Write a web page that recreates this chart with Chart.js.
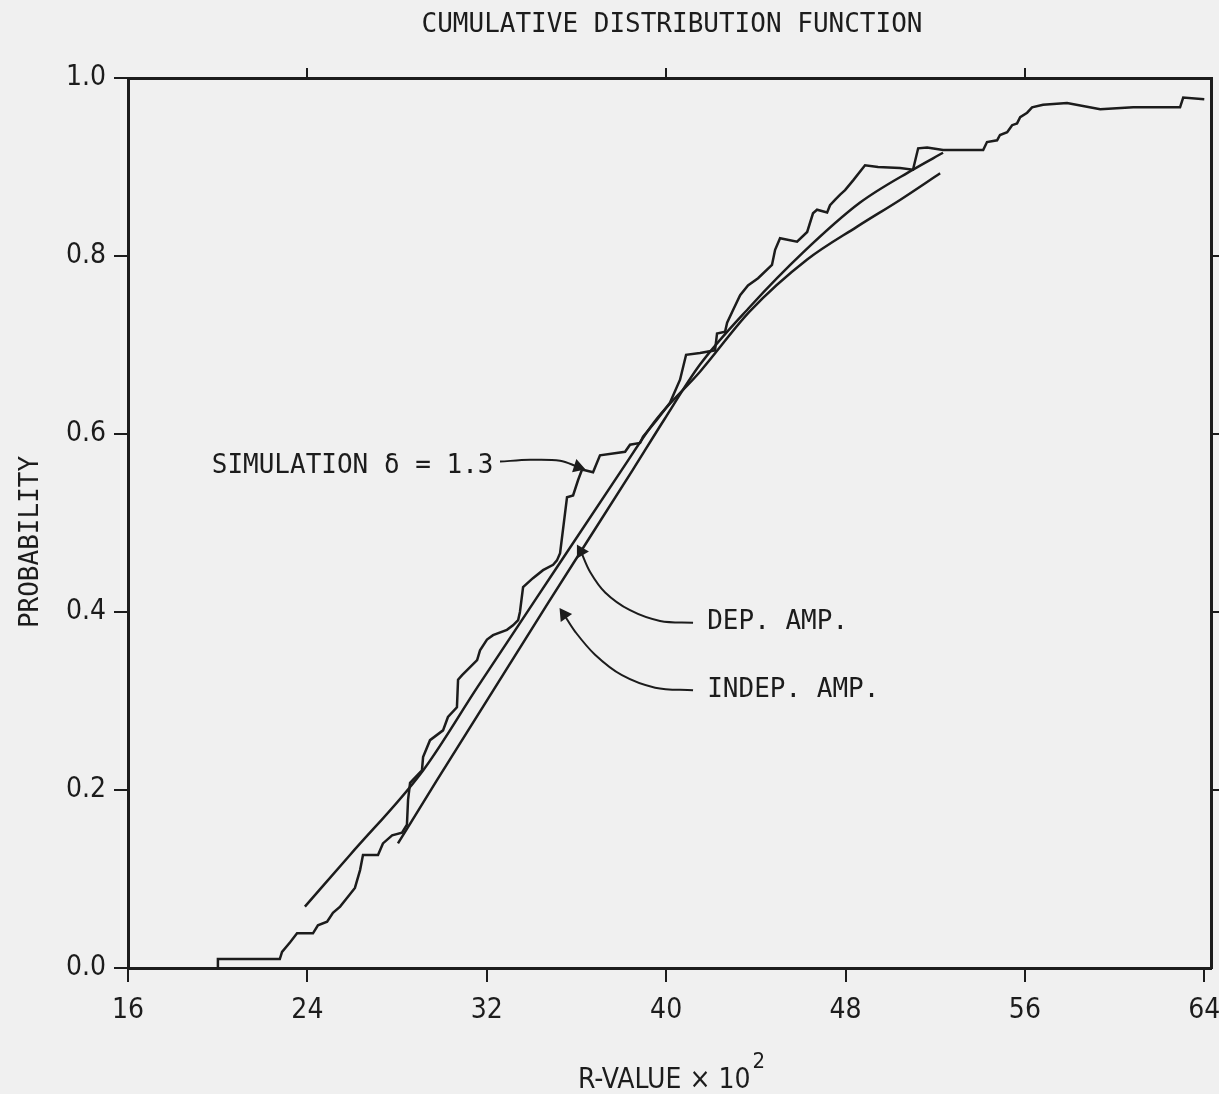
<!DOCTYPE html>
<html>
<head>
<meta charset="utf-8">
<title>Cumulative Distribution Function</title>
<script src="https://cdn.jsdelivr.net/npm/chart.js@4.4.0/dist/chart.umd.min.js"></script>
<style>
  html, body { margin: 0; padding: 0; background: #f0f0f0; }
  #wrap { width: 1219px; height: 1094px; }
</style>
</head>
<body>
<div id="wrap"><canvas id="cdfChart"></canvas></div>
<script>
// axis ticks
const xTicks = [16, 24, 32, 40, 48, 56, 64];
const yTicks = [0, 0.2, 0.4, 0.6, 0.8, 1.0];
const topTicks = [24, 40, 56];
const rightTicks = [0.2, 0.4, 0.6, 0.8];

// simulation (delta = 1.3), step curve
const simX = [19.97, 20.01, 22.77, 22.87, 23.23, 23.54, 24.25, 24.47, 24.88, 25.14,
              25.46, 25.81, 26.12, 26.35, 26.48, 27.15, 27.37, 27.78, 28.22, 28.44,
              28.49, 28.58, 29.11, 29.16, 29.47, 30.05, 30.27, 30.67, 30.72, 30.90,
              31.57, 31.70, 32.01, 32.28, 32.90, 33.17, 33.40, 33.48, 33.62, 34.06,
              34.51, 34.96, 35.13, 35.27, 35.58, 35.85, 36.07, 36.25, 36.74, 37.05,
              38.17, 38.39, 38.84, 38.97, 39.59, 40.17, 40.62, 40.89, 41.51, 42.18,
              42.27, 42.63, 42.72, 42.98, 43.30, 43.65, 44.10, 44.72, 44.86, 45.08,
              45.84, 46.29, 46.55, 46.73, 47.18, 47.31, 47.53, 47.76, 47.98, 48.34,
              48.87, 49.45, 50.43, 51.01, 51.24, 51.64, 52.35, 54.14, 54.31, 54.76,
              54.89, 55.21, 55.43, 55.65, 55.79, 56.10, 56.32, 56.81, 57.88, 59.36,
              60.83, 62.92, 63.06, 64.0];
const simY = [0, 0.010, 0.010, 0.018, 0.029, 0.039, 0.039, 0.048, 0.052, 0.062,
              0.069, 0.080, 0.090, 0.110, 0.127, 0.127, 0.140, 0.149, 0.152, 0.161,
              0.189, 0.208, 0.222, 0.237, 0.256, 0.267, 0.282, 0.293, 0.324, 0.329,
              0.346, 0.357, 0.369, 0.374, 0.380, 0.385, 0.391, 0.400, 0.428, 0.438,
              0.447, 0.453, 0.458, 0.466, 0.529, 0.531, 0.548, 0.560, 0.557, 0.576,
              0.580, 0.588, 0.590, 0.597, 0.616, 0.635, 0.661, 0.689, 0.691, 0.694,
              0.713, 0.715, 0.725, 0.739, 0.756, 0.767, 0.775, 0.790, 0.807, 0.820,
              0.816, 0.827, 0.848, 0.852, 0.849, 0.857, 0.863, 0.869, 0.874, 0.885,
              0.902, 0.900, 0.899, 0.897, 0.921, 0.922, 0.919, 0.919, 0.928, 0.930,
              0.936, 0.939, 0.947, 0.949, 0.956, 0.961, 0.967, 0.970, 0.972, 0.965,
              0.967, 0.967, 0.978, 0.976];

// dependent amplification fit
const depX = [23.89, 25.90, 29.16, 31.57, 34.15, 38.03, 39.55, 41.51, 43.74, 46.29, 48.52, 50.43, 52.22];
const depY = [0.069, 0.127, 0.222, 0.315, 0.413, 0.560, 0.616, 0.670, 0.738, 0.796, 0.833, 0.863, 0.893];

// independent amplification fit
const indepX = [28.04, 29.78, 34.73, 38.52, 39.91, 41.51, 43.74, 46.11, 48.65, 51.01, 52.35];
const indepY = [0.140, 0.211, 0.410, 0.560, 0.616, 0.678, 0.743, 0.804, 0.860, 0.897, 0.916];

// leader lines for the labels (label end -> arrow tip)
const simLeadX = [32.59, 33.93, 35.27, 36.07];
const simLeadY = [0.569, 0.571, 0.570, 0.563];
const depLeadX = [41.20, 39.73, 38.39, 37.28, 36.61, 36.20];
const depLeadY = [0.388, 0.390, 0.402, 0.422, 0.445, 0.468];
const indepLeadX = [41.20, 39.51, 38.03, 36.83, 35.94, 35.45];
const indepLeadY = [0.312, 0.315, 0.329, 0.352, 0.378, 0.397];

const labels = [
    { text: 'SIMULATION \u03b4 = 1.3', x: 32.30, y: 0.564, align: 'right' },
    { text: 'DEP. AMP.', x: 41.83, y: 0.388, align: 'left' },
    { text: 'INDEP. AMP.', x: 41.83, y: 0.312, align: 'left' }
];

const ink = '#1c1c1c';
const monoFont = '"DejaVu Sans Mono", "Liberation Mono", monospace';
const tickFont = '"DejaVu Sans Condensed", "Liberation Sans Narrow", "Liberation Sans", sans-serif';

function toPoints(xs, ys) {
    return xs.map((x, i) => ({ x: x, y: ys[i] }));
}

function leader(xs, ys, rot) {
    const n = xs.length;
    return {
        data: toPoints(xs, ys),
        borderColor: ink,
        backgroundColor: ink,
        borderWidth: 2,
        tension: 0.35,
        pointStyle: 'triangle',
        pointRadius: xs.map((_, i) => i === n - 1 ? 6 : 0),
        pointRotation: rot
    };
}

// no extra label padding, so the frame lands where the original has it
function noPad(s) {
    s.paddingLeft = 0;
    s.paddingRight = 0;
    s.paddingTop = 0;
    s.paddingBottom = 0;
}

const textPlugin = {
    id: 'textPlugin',
    beforeDraw(chart) {
        const ctx = chart.ctx;
        ctx.save();
        ctx.fillStyle = '#f0f0f0';
        ctx.fillRect(0, 0, chart.width, chart.height);
        ctx.restore();
    },
    afterDraw(chart) {
        const ctx = chart.ctx;
        const area = chart.chartArea;
        const xs = chart.scales.x;
        const ys = chart.scales.y;
        ctx.save();
        ctx.fillStyle = ink;

        // title
        ctx.font = '26px ' + monoFont;
        ctx.textAlign = 'center';
        ctx.textBaseline = 'middle';
        ctx.fillText('CUMULATIVE DISTRIBUTION FUNCTION', 672, 25);

        // y title
        ctx.save();
        ctx.translate(31, 542);
        ctx.rotate(-Math.PI / 2);
        ctx.fillText('PROBABILITY', 0, 0);
        ctx.restore();

        // curve labels
        labels.forEach(l => {
            ctx.textAlign = l.align;
            ctx.fillText(l.text, xs.getPixelForValue(l.x), ys.getPixelForValue(l.y));
        });

        // x title with superscript
        ctx.font = '28px ' + tickFont;
        ctx.textAlign = 'left';
        ctx.textBaseline = 'alphabetic';
        const main = 'R-VALUE \u00d7 10';
        const w = ctx.measureText(main).width;
        const x0 = 578;
        ctx.fillText(main, x0, 1088);
        ctx.font = '22px ' + tickFont;
        ctx.fillText('2', x0 + w + 2, 1068);
        ctx.restore();
    }
};

new Chart(document.getElementById('cdfChart'), {
    type: 'line',
    data: {
        datasets: [
            {
                data: toPoints(simX, simY),
                borderColor: ink,
                borderWidth: 2.5,
                pointRadius: 0,
                tension: 0
            },
            {
                data: toPoints(depX, depY),
                borderColor: ink,
                borderWidth: 2.5,
                pointRadius: 0,
                cubicInterpolationMode: 'monotone'
            },
            {
                data: toPoints(indepX, indepY),
                borderColor: ink,
                borderWidth: 2.5,
                pointRadius: 0,
                cubicInterpolationMode: 'monotone'
            },
            leader(simLeadX, simLeadY, 108),
            leader(depLeadX, depLeadY, -30),
            leader(indepLeadX, indepLeadY, -35)
        ]
    },
    options: {
        responsive: true,
        maintainAspectRatio: false,
        animation: false,
        layout: { padding: 0 },
        plugins: {
            legend: { display: false },
            tooltip: { enabled: false },
            title: { display: false }
        },
        scales: {
            x: {
                type: 'linear',
                position: 'bottom',
                min: 16,
                max: 64.3,
                afterBuildTicks: s => { s.ticks = xTicks.map(v => ({ value: v })); },
                afterFit: s => { s.height = 126; noPad(s); },
                grid: { drawOnChartArea: false, tickLength: 14, color: ink, lineWidth: 2 },
                border: { display: true, color: ink, width: 3 },
                ticks: {
                    autoSkip: false,
                    maxRotation: 0,
                    padding: 12,
                    color: ink,
                    font: { family: tickFont, size: 28 }
                }
            },
            xTop: {
                type: 'linear',
                position: 'top',
                min: 16,
                max: 64.3,
                afterBuildTicks: s => { s.ticks = topTicks.map(v => ({ value: v })); },
                afterFit: s => { s.height = 78; noPad(s); },
                grid: { drawOnChartArea: false, tickLength: 10, color: ink, lineWidth: 2 },
                border: { display: true, color: ink, width: 3 },
                ticks: { display: false }
            },
            y: {
                type: 'linear',
                position: 'left',
                min: 0,
                max: 1,
                afterBuildTicks: s => { s.ticks = yTicks.map(v => ({ value: v })); },
                afterFit: s => { s.width = 128; noPad(s); },
                grid: { drawOnChartArea: false, tickLength: 14, color: ink, lineWidth: 2 },
                border: { display: true, color: ink, width: 3 },
                ticks: {
                    padding: 8,
                    color: ink,
                    font: { family: tickFont, size: 28 },
                    callback: v => v.toFixed(1)
                }
            },
            yRight: {
                type: 'linear',
                position: 'right',
                min: 0,
                max: 1,
                afterBuildTicks: s => { s.ticks = rightTicks.map(v => ({ value: v })); },
                afterFit: s => { s.width = 8; noPad(s); },
                grid: { drawOnChartArea: false, tickLength: 12, color: ink, lineWidth: 2 },
                border: { display: true, color: ink, width: 3 },
                ticks: { display: false }
            }
        }
    },
    plugins: [textPlugin]
});
</script>
</body>
</html>
